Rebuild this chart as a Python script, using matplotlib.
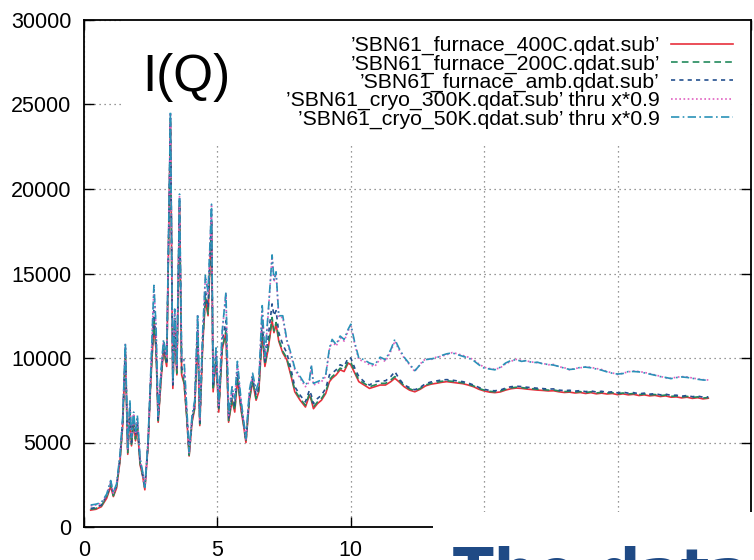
import matplotlib.pyplot as plt
from matplotlib.patches import Rectangle

plt.rcParams['font.family'] = ['Liberation Sans', 'DejaVu Sans']

# Q values (x)
q = [0.25, 0.45, 0.65, 0.85, 1.0, 1.1, 1.22, 1.35, 1.45, 1.55,
     1.64, 1.72, 1.78, 1.86, 1.93, 2.0, 2.1, 2.2, 2.28, 2.4,
     2.5, 2.62, 2.7, 2.78, 2.88, 2.98, 3.1, 3.24, 3.33, 3.4,
     3.48, 3.58, 3.66, 3.75, 3.85, 3.94, 4.05, 4.15, 4.26, 4.34,
     4.45, 4.55, 4.65, 4.78, 4.84, 4.95, 5.05, 5.18, 5.32, 5.42,
     5.55, 5.65, 5.75, 5.88, 6.0, 6.07, 6.2, 6.32, 6.45, 6.55,
     6.68, 6.78, 6.9, 7.05, 7.12, 7.2, 7.3, 7.45, 7.6, 7.75,
     7.9, 8.1, 8.3, 8.45, 8.52, 8.6, 8.75, 8.9, 9.06, 9.2,
     9.3, 9.45, 9.6, 9.75, 9.9, 10.0, 10.15, 10.3, 10.5, 10.7,
     10.9, 11.1, 11.3, 11.5, 11.65, 11.8,
     12.0, 12.2, 12.4, 12.6, 12.8, 13.0, 13.2, 13.4, 13.6, 13.8,
     14.0, 14.2, 14.4, 14.6, 14.8, 15.0, 15.2, 15.4, 15.6, 15.8,
     16.0, 16.2, 16.4, 16.6, 16.8, 17.0, 17.2, 17.4, 17.6, 17.8,
     18.0, 18.2, 18.4, 18.6, 18.8, 19.0, 19.2, 19.4, 19.6, 19.8,
     20.0, 20.2, 20.4, 20.6, 20.8, 21.0, 21.2, 21.4, 21.6, 21.8,
     22.0, 22.2, 22.4, 22.6, 22.8, 23.0, 23.2, 23.4]

furnace_400C = [1000, 1050, 1200, 1700, 2400, 1800, 2300, 3900, 6000, 10300,
                4300, 6800, 4800, 6300, 5100, 6000, 3700, 3000, 2200, 4800,
                8500, 12000, 10500, 6200, 8500, 10500, 9500, 23800, 8200, 12000,
                9000, 19000, 9000, 8500, 6500, 4200, 6200, 7000, 11500, 6000,
                10800, 13500, 12500, 18000, 8000, 10000, 6800, 10500, 11500, 6200,
                7500, 6800, 8800, 7000, 5800, 5000, 7500, 8600, 7500, 8000,
                11500, 9500, 10500, 12200, 11500, 12000, 11000, 10300, 9900, 9000,
                8000, 7500, 7100, 7800, 7500, 7000, 7300, 7500, 7900, 8600,
                8800, 9000, 9300, 9200, 9700, 9600, 9100, 8600, 8400, 8200,
                8300, 8400, 8400, 8600, 8800, 8600,
                8300, 8100, 8000, 8150, 8350, 8450, 8500, 8560, 8600, 8560,
                8520, 8480, 8400, 8300, 8150, 8050, 7980, 7950, 7990, 8100,
                8180, 8220, 8200, 8160, 8130, 8100, 8080, 8050, 8060, 8000,
                7960, 7980, 7930, 7960, 7900, 7950, 7880, 7920, 7870, 7900,
                7830, 7880, 7820, 7850, 7780, 7820, 7760, 7790, 7720, 7760,
                7680, 7700, 7640, 7680, 7610, 7650, 7580, 7620]

furnace_200C = [1050, 1100, 1250, 1800, 2500, 1850, 2400, 4000, 6100, 10400,
                4400, 6900, 4900, 6400, 5200, 6100, 3800, 3050, 2250, 4850,
                8600, 12200, 10600, 6300, 8600, 10600, 9600, 24000, 8300, 12100,
                9100, 19100, 9100, 8600, 6600, 4250, 6300, 7100, 11600, 6100,
                10900, 13600, 12600, 18100, 8100, 10100, 6900, 10600, 11600, 6300,
                7600, 6900, 8900, 7100, 5900, 5050, 7600, 8700, 7600, 8100,
                11600, 9600, 10600, 12400, 11600, 12100, 11100, 10400, 10000, 9100,
                8100, 7600, 7200, 7900, 7600, 7100, 7400, 7600, 8000, 8700,
                8900, 9100, 9400, 9300, 9800, 9750, 9200, 8700, 8500, 8300,
                8400, 8500, 8500, 8700, 8900, 8700,
                8350, 8180, 8060, 8200, 8400, 8500, 8560, 8620, 8650, 8620,
                8580, 8530, 8450, 8350, 8200, 8100, 8030, 8000, 8040, 8150,
                8230, 8270, 8250, 8210, 8180, 8150, 8130, 8100, 8110, 8050,
                8010, 8030, 7980, 8010, 7950, 8000, 7930, 7970, 7920, 7950,
                7880, 7930, 7870, 7900, 7830, 7870, 7810, 7840, 7770, 7810,
                7730, 7750, 7690, 7730, 7660, 7700, 7630, 7660]

furnace_amb = [1100, 1150, 1300, 1850, 2600, 1950, 2450, 4100, 6300, 10600,
               4500, 7100, 5000, 6600, 5400, 6300, 3900, 3100, 2300, 4950,
               8800, 12800, 11000, 6400, 8800, 10800, 9800, 24200, 8400, 12400,
               9300, 19300, 9400, 9000, 6800, 4300, 6400, 7200, 12000, 6200,
               11200, 14000, 13000, 18500, 8300, 10300, 7000, 11000, 12200, 6400,
               7900, 7200, 9200, 7300, 6000, 5100, 7800, 8800, 7800, 8300,
               12200, 9800, 11200, 13200, 12500, 12800, 11500, 10800, 10300, 9400,
               8300, 7800, 7400, 8100, 7800, 7300, 7600, 7800, 8200, 9000,
               9100, 9300, 9600, 9500, 10000, 10000, 9400, 8900, 8600, 8400,
               8600, 8650, 8650, 8900, 9200, 8800,
               8400, 8250, 8120, 8260, 8480, 8580, 8640, 8700, 8720, 8690,
               8640, 8600, 8520, 8400, 8260, 8150, 8080, 8060, 8100, 8220,
               8300, 8330, 8310, 8270, 8240, 8210, 8190, 8160, 8170, 8100,
               8070, 8090, 8040, 8070, 8010, 8050, 7990, 8030, 7970, 8000,
               7940, 7980, 7920, 7950, 7880, 7920, 7860, 7890, 7820, 7860,
               7790, 7800, 7740, 7780, 7710, 7750, 7680, 7700]

cryo_300K = [1250, 1300, 1400, 1900, 2700, 2000, 2500, 4200, 6400, 10800,
             4600, 7400, 5200, 6700, 5500, 6500, 4000, 3200, 2300, 5000,
             9000, 14200, 11800, 6500, 9000, 11000, 10000, 24500, 8500, 12800,
             9500, 19600, 10000, 9800, 7000, 4400, 6500, 7400, 12500, 6300,
             11500, 14800, 13800, 19000, 8500, 10500, 7200, 11500, 13800, 6600,
             8200, 7500, 9700, 7500, 6000, 5200, 8000, 9000, 8000, 8500,
             13000, 10000, 12500, 16000, 14500, 15000, 12400, 12400, 11000, 10200,
             9300, 8800, 8300, 8600, 9500, 8400, 8500, 8600, 8900, 10500,
             11000, 10700, 11200, 11000, 11600, 11900, 10800, 9900, 9800, 9600,
             9500, 9950, 9800, 10400, 11000, 10500,
             10000, 9600, 9200, 9650, 9950, 9900, 10050, 10100, 10200, 10320,
             10250, 10150, 10050, 9900, 9650, 9450, 9380, 9330, 9420, 9650,
             9800, 9920, 9850, 9820, 9760, 9720, 9680, 9600, 9620, 9480,
             9430, 9300, 9380, 9420, 9480, 9450, 9380, 9320, 9200, 9120,
             9020, 9100, 9180, 9230, 9200, 9150, 9080, 9000, 8920, 8820,
             8800, 8860, 8900, 8880, 8820, 8760, 8720, 8700]

cryo_50K = [1300, 1350, 1450, 1950, 2750, 2050, 2550, 4300, 6500, 10900,
            4700, 7500, 5300, 6800, 5600, 6600, 4100, 3250, 2350, 5100,
            9100, 14300, 11900, 6600, 9100, 11100, 10100, 24600, 8600, 12900,
            9600, 19700, 10100, 9900, 7100, 4450, 6600, 7500, 12600, 6400,
            11600, 14900, 13900, 19100, 8600, 10600, 7300, 11600, 13900, 6700,
            8300, 7600, 9800, 7600, 6100, 5250, 8100, 9100, 8100, 8600,
            13100, 10100, 12600, 16100, 14600, 15100, 12500, 12500, 11100, 10300,
            9400, 8900, 8400, 8700, 9600, 8500, 8600, 8700, 9000, 10600,
            11100, 10800, 11300, 11100, 11700, 12000, 10900, 10000, 9900, 9700,
            9600, 10050, 9900, 10500, 11100, 10600,
            10050, 9650, 9250, 9600, 9900, 9950, 10000, 10150, 10250, 10300,
            10200, 10100, 10000, 9850, 9600, 9400, 9350, 9300, 9450, 9700,
            9850, 9900, 9800, 9850, 9720, 9750, 9650, 9620, 9580, 9500,
            9400, 9320, 9350, 9450, 9460, 9420, 9350, 9280, 9180, 9100,
            9050, 9080, 9200, 9200, 9180, 9120, 9050, 8980, 8900, 8850,
            8780, 8840, 8880, 8850, 8800, 8740, 8700, 8680]

etiquetas = ["\u2019SBN61_furnace_400C.qdat.sub\u2019",
             "\u2019SBN61_furnace_200C.qdat.sub\u2019",
             "\u2019SBN61_furnace_amb.qdat.sub\u2019",
             "\u2019SBN61_cryo_300K.qdat.sub\u2019 thru x*0.9",
             "\u2019SBN61_cryo_50K.qdat.sub\u2019 thru x*0.9"]

xticks = [0, 5, 10, 15, 20, 25]
xtick_labels = ['0', '5', '10', '', '', '']  # las demas quedan tapadas
yticks = [0, 5000, 10000, 15000, 20000, 25000, 30000]

fig = plt.figure(figsize=(7.54, 5.6), dpi=100)
ax = fig.add_axes([84 / 754, 33 / 560, 667 / 754, 507 / 560])

ax.plot(q, furnace_400C, color='#e8303c', lw=1.2, label=etiquetas[0])
ax.plot(q, furnace_200C, color='#238a5c', lw=1.2, ls=(0, (4, 2.5)), label=etiquetas[1])
ax.plot(q, furnace_amb, color='#24508f', lw=1.2, ls=(0, (2.5, 2.5)), label=etiquetas[2])
ax.plot(q, cryo_300K, color='#e060c0', lw=1.2, ls=(0, (1, 1.5)), label=etiquetas[3])
ax.plot(q, cryo_50K, color='#2a92b8', lw=1.2, ls=(0, (5, 2, 1, 2)), label=etiquetas[4])

ax.set_xlim(0, 25)
ax.set_ylim(0, 30000)
ax.set_xticks(xticks, xtick_labels)
ax.set_yticks(yticks)
ax.tick_params(direction='in', length=7, width=1, top=True, right=True,
               labelsize=15.5, pad=9)
for s in ax.spines.values():
    s.set_linewidth(1.3)

ax.set_axisbelow(True)
ax.grid(True, color='#777777', linestyle=(0, (1, 3)), linewidth=0.9)
# zona blanca tras la etiqueta y la leyenda (tapa la rejilla)
ax.add_patch(Rectangle((1.4, 22600), 23.6, 7400, facecolor='white',
                       edgecolor='none', zorder=1))

ax.text(2.2, 25800, 'I(Q)', fontsize=37, va='baseline', zorder=3)

ax.legend(loc='upper right', bbox_to_anchor=(733 / 754, 1 - 36 / 560),
          bbox_transform=fig.transFigure, frameon=False, markerfirst=False,
          fontsize=15.3, handlelength=2.9, handletextpad=0.55,
          labelspacing=-0.04, borderpad=0, borderaxespad=0)

# recorte de la diapositiva abajo a la derecha
fig.add_artist(Rectangle((433 / 754, 0), 1, 48 / 560, facecolor='white',
                         edgecolor='none', zorder=10))
fig.text(453 / 754, 1 - 546 / 560, 'The data', fontsize=43, fontweight='bold',
         family='DejaVu Sans', color='#1f4a85', va='top', zorder=11)

fig.savefig('out.png', dpi=100)
